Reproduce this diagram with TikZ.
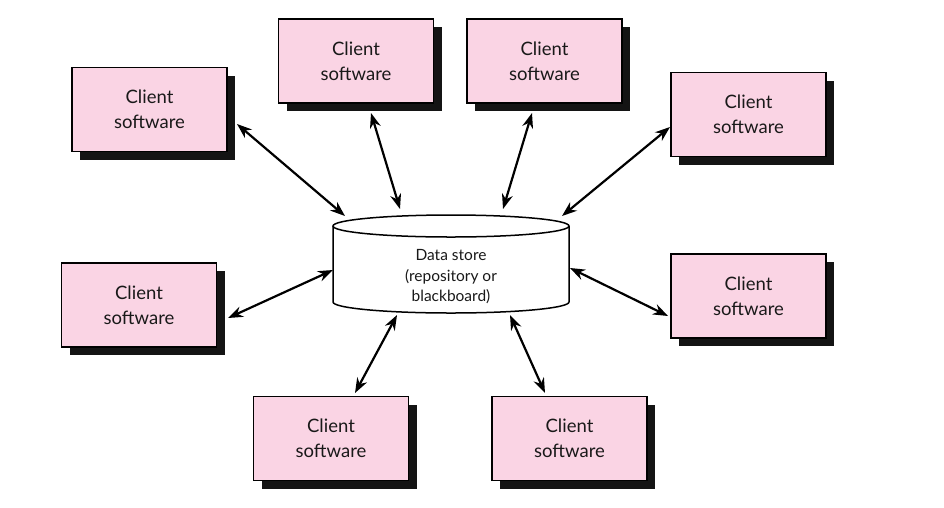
\documentclass[tikz,border=0pt]{standalone}
\usepackage{fontspec}
\setmainfont{Lato}
\usetikzlibrary{arrows.meta,shadows}
\definecolor{boxpink}{RGB}{250,212,228}
\tikzset{
  client/.style={draw=black, line width=1.8pt, fill=boxpink, minimum width=155pt, minimum height=84pt,
    align=center, font=\fontsize{18.5}{25}\selectfont, text=black!90,
    general shadow={fill=black!92, shadow xshift=8pt, shadow yshift=-8pt}},
  link/.style={line width=2.2pt, {Stealth[length=15pt,width=11pt]}-{Stealth[length=15pt,width=11pt]}},
  cyl/.style={draw=black, line width=1.5pt, fill=white},
  dstext/.style={align=center, font=\fontsize{15.5}{20.5}\selectfont, text=black!90}
}
\begin{document}
\begin{tikzpicture}[x=1pt,y=-1pt]
\useasboundingbox (0,0) rectangle (944,507);
% boxes
\node[client] (c1) at (149.5,109.5) {Client\\software};
\node[client] (c2) at (356,61) {Client\\software};
\node[client] (c3) at (544.5,61) {Client\\software};
\node[client] (c4) at (748.5,114.5) {Client\\software};
\node[client] (c5) at (139,305) {Client\\software};
\node[client] (c6) at (748.5,296) {Client\\software};
\node[client] (c7) at (331,438.5) {Client\\software};
\node[client] (c8) at (569.5,438.5) {Client\\software};
% data store cylinder
\draw[cyl] (333,226) -- (333,302) arc[start angle=180,end angle=0,x radius=118,y radius=11] -- (569,226);
\draw[cyl] (451,226) ellipse[x radius=118,y radius=11];
\node[dstext] (ds) at (451,277) {Data store\\(repository or\\blackboard)};
% arrow ends
\coordinate (a1) at (237,124); \coordinate (b1) at (345,216);
\coordinate (a2) at (371,113); \coordinate (b2) at (400,209);
\coordinate (a3) at (532,113); \coordinate (b3) at (503,209);
\coordinate (a4) at (670,127); \coordinate (b4) at (562,216);
\coordinate (a5) at (228,318); \coordinate (b5) at (333,270);
\coordinate (a6) at (668,316); \coordinate (b6) at (570,268);
\coordinate (a7) at (355,393); \coordinate (b7) at (397,315);
\coordinate (a8) at (545,393); \coordinate (b8) at (510,315);
\foreach \i in {1,...,8} \draw[link] (a\i) -- (b\i);
\end{tikzpicture}
\end{document}
